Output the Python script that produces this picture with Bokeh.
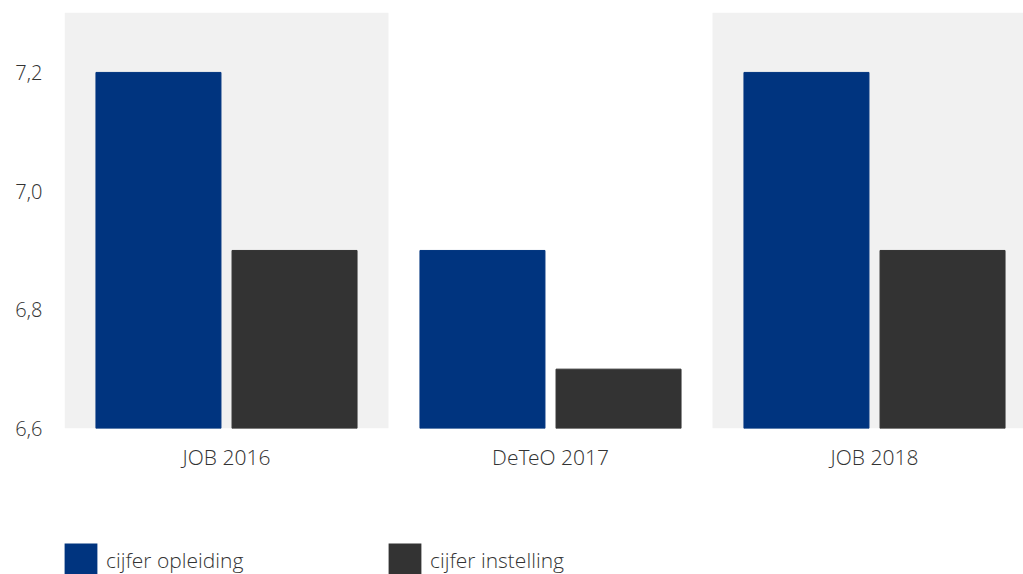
from bokeh.plotting import figure
from bokeh.layouts import column
from bokeh.models import Range1d, FixedTicker, CustomJSTickFormatter, Legend, LegendItem, ColumnDataSource
from bokeh.embed import file_html
from bokeh.resources import INLINE

categories = ["JOB 2016", "DeTeO 2017", "JOB 2018"]
series_names = ["cijfer opleiding", "cijfer instelling"]
cijfer_opleiding = [7.2, 6.9, 7.2]
cijfer_instelling = [6.9, 6.7, 6.9]
y_ticks = [6.6, 6.8, 7.0, 7.2]

BLUE = "#00347f"
GRAY = "#333333"
BAND = "#f1f1f1"
FONT = "'Open Sans Light', 'Open Sans'"

ymin, ymax = 6.6, 7.301
p = figure(width=1023, height=500, output_backend="svg", toolbar_location=None,
           x_range=Range1d(0, 959 / 324), y_range=Range1d(ymin, ymax),
           min_border_left=64, min_border_right=0, min_border_top=12, min_border_bottom=72)
p.outline_line_color = None
p.grid.grid_line_color = None
p.background_fill_color = "white"

# shaded bands for alternate categories
idx = list(range(len(categories)))
band_idx = [i for i in idx if i % 2 == 0]
p.quad(left=[i for i in band_idx], right=[i + 1 for i in band_idx],
       bottom=[ymin] * len(band_idx), top=[ymax] * len(band_idx),
       fill_color=BAND, line_color=None)

w = 125 / 324
off = 0.21
src = ColumnDataSource(dict(
    xa=[i + 0.5 - off for i in idx], xb=[i + 0.5 + off for i in idx],
    a=cijfer_opleiding, b=cijfer_instelling))
p.vbar(x="xa", top="a", bottom=ymin, width=w, source=src, fill_color=BLUE, line_color=BLUE)
p.vbar(x="xb", top="b", bottom=ymin, width=w, source=src, fill_color=GRAY, line_color=GRAY)

# axes
p.xaxis.ticker = FixedTicker(ticks=[i + 0.5 for i in idx])
p.xaxis.major_label_overrides = {i + 0.5: c for i, c in zip(idx, categories)}
p.yaxis.ticker = FixedTicker(ticks=y_ticks)
p.yaxis.formatter = CustomJSTickFormatter(code="return tick.toFixed(1).replace('.', ',');")
for ax in (p.xaxis[0], p.yaxis[0]):
    ax.axis_line_color = None
    ax.major_tick_line_color = None
    ax.minor_tick_line_color = None
    ax.major_tick_out = 0
    ax.major_tick_in = 0
    ax.major_label_text_font = FONT
    ax.major_label_text_color = "#333333"
p.xaxis.major_label_text_font_size = "21px"
p.yaxis.major_label_text_font_size = "20px"
p.xaxis.major_label_standoff = 14
p.yaxis.major_label_standoff = 22

# legend strip (swatch renderers have zero height, so they draw nothing themselves)
lg = figure(width=1023, height=74, output_backend="svg", toolbar_location=None,
            x_axis_type=None, y_axis_type=None,
            min_border_left=64, min_border_right=0, min_border_top=0, min_border_bottom=0,
            x_range=Range1d(0, 1), y_range=Range1d(0, 1))
lg.outline_line_color = None
lg.grid.grid_line_color = None
sw = ColumnDataSource(dict(x=[0.5], top=[0.0]))
la = lg.vbar(x="x", top="top", bottom=0.0, width=0.01, source=sw, fill_color=BLUE, line_color=None)
lb = lg.vbar(x="x", top="top", bottom=0.0, width=0.01, source=sw, fill_color=GRAY, line_color=None)
legend = Legend(items=[LegendItem(label=series_names[0], renderers=[la]),
                       LegendItem(label=series_names[1], renderers=[lb])],
                orientation="horizontal", location=(-4, -6),
                glyph_width=41, glyph_height=41, label_standoff=5,
                label_width=278, spacing=0, padding=0, margin=0,
                border_line_color=None, background_fill_alpha=0,
                label_text_font=FONT, label_text_font_size="21px",
                label_text_color="#333333")
lg.add_layout(legend, "center")

layout = column(p, lg, spacing=0)
open("out.html", "w").write(file_html(layout, INLINE))
